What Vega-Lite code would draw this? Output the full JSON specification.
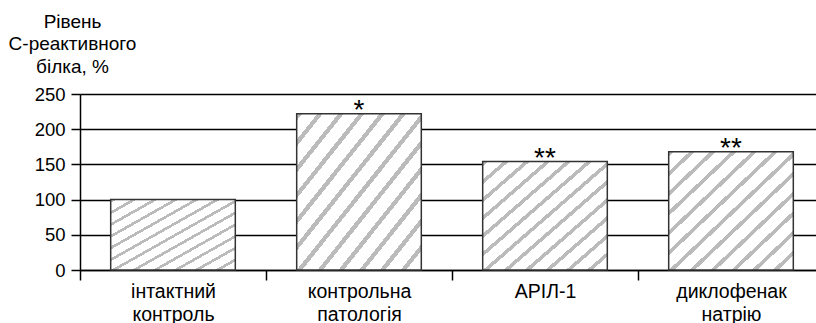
{
  "$schema": "https://vega.github.io/schema/vega-lite/v6.json",
  "width": 744,
  "height": 176,
  "autosize": {"type": "none"},
  "padding": {"left": 80, "top": 94, "right": 0, "bottom": 53},
  "background": "white",
  "config": {
    "view": {"stroke": null},
    "font": "Liberation Sans",
    "axis": {"labelFont": "Liberation Sans", "titleFont": "Liberation Sans", "labelColor": "black", "titleColor": "black"}
  },
  "data": {
    "values": [
      {"group": "інтактний|контроль", "value": 100, "sig": ""},
      {"group": "контрольна|патологія", "value": 222, "sig": "*"},
      {"group": "АРІЛ-1", "value": 154, "sig": "**"},
      {"group": "диклофенак|натрію", "value": 168, "sig": "**"}
    ]
  },
  "encoding": {
    "x": {
      "field": "group",
      "type": "nominal",
      "sort": null,
      "scale": {"paddingInner": 0.33, "paddingOuter": 0.165},
      "axis": {
        "title": null,
        "labelAngle": 0,
        "labelExpr": "split(datum.label, '|')",
        "labelFontSize": 19.5,
        "labelLineHeight": 23,
        "labelPadding": 17,
        "labelBaseline": "alphabetic",
        "labelOffset": 93,
        "ticks": true,
        "tickOffset": -93,
        "tickSize": 10,
        "tickColor": "black",
        "tickWidth": 1.5,
        "tickOpacity": 1,
        "domain": true,
        "domainColor": "black",
        "domainWidth": 1.5,
        "grid": false
      }
    },
    "y": {
      "field": "value",
      "type": "quantitative",
      "scale": {"domain": [0, 250], "nice": false},
      "axis": {
        "values": [0, 50, 100, 150, 200, 250],
        "title": ["Рівень", "С-реактивного", "білка, %"],
        "titleAngle": 0,
        "titleAlign": "center",
        "titleBaseline": "top",
        "titleX": -8,
        "titleY": -82,
        "titleFontSize": 19,
        "titleFontWeight": "normal",
        "titleLineHeight": 22.5,
        "labelFontSize": 18.5,
        "labelPadding": 6,
        "tickSize": 9,
        "tickColor": "black",
        "tickWidth": 1.5,
        "domainColor": "black",
        "domainWidth": 1.5,
        "grid": true,
        "gridColor": "black",
        "gridWidth": 1.5
      }
    }
  },
  "layer": [
    {
      "mark": {
        "type": "bar",
        "stroke": "#333333",
        "strokeWidth": 1.5,
        "fill": {
          "gradient": "linear",
          "x1": 0, "y1": 0, "x2": 1, "y2": 1,
          "stops": [
            {"offset": 0, "color": "#bbbbbb"},
            {"offset": 0.022, "color": "#bbbbbb"},
            {"offset": 0.022, "color": "white"},
            {"offset": 0.083, "color": "white"},
            {"offset": 0.083, "color": "#bbbbbb"},
            {"offset": 0.105, "color": "#bbbbbb"},
            {"offset": 0.105, "color": "white"},
            {"offset": 0.167, "color": "white"},
            {"offset": 0.167, "color": "#bbbbbb"},
            {"offset": 0.189, "color": "#bbbbbb"},
            {"offset": 0.189, "color": "white"},
            {"offset": 0.25, "color": "white"},
            {"offset": 0.25, "color": "#bbbbbb"},
            {"offset": 0.272, "color": "#bbbbbb"},
            {"offset": 0.272, "color": "white"},
            {"offset": 0.333, "color": "white"},
            {"offset": 0.333, "color": "#bbbbbb"},
            {"offset": 0.355, "color": "#bbbbbb"},
            {"offset": 0.355, "color": "white"},
            {"offset": 0.417, "color": "white"},
            {"offset": 0.417, "color": "#bbbbbb"},
            {"offset": 0.439, "color": "#bbbbbb"},
            {"offset": 0.439, "color": "white"},
            {"offset": 0.5, "color": "white"},
            {"offset": 0.5, "color": "#bbbbbb"},
            {"offset": 0.522, "color": "#bbbbbb"},
            {"offset": 0.522, "color": "white"},
            {"offset": 0.583, "color": "white"},
            {"offset": 0.583, "color": "#bbbbbb"},
            {"offset": 0.605, "color": "#bbbbbb"},
            {"offset": 0.605, "color": "white"},
            {"offset": 0.667, "color": "white"},
            {"offset": 0.667, "color": "#bbbbbb"},
            {"offset": 0.689, "color": "#bbbbbb"},
            {"offset": 0.689, "color": "white"},
            {"offset": 0.75, "color": "white"},
            {"offset": 0.75, "color": "#bbbbbb"},
            {"offset": 0.772, "color": "#bbbbbb"},
            {"offset": 0.772, "color": "white"},
            {"offset": 0.833, "color": "white"},
            {"offset": 0.833, "color": "#bbbbbb"},
            {"offset": 0.855, "color": "#bbbbbb"},
            {"offset": 0.855, "color": "white"},
            {"offset": 0.917, "color": "white"},
            {"offset": 0.917, "color": "#bbbbbb"},
            {"offset": 0.939, "color": "#bbbbbb"},
            {"offset": 0.939, "color": "white"},
            {"offset": 1, "color": "white"}
          ]
        }
      }
    },
    {
      "mark": {
        "type": "text",
        "baseline": "alphabetic",
        "dy": 5,
        "fontSize": 28,
        "font": "Liberation Sans",
        "color": "black"
      },
      "encoding": {"text": {"field": "sig"}}
    }
  ]
}
